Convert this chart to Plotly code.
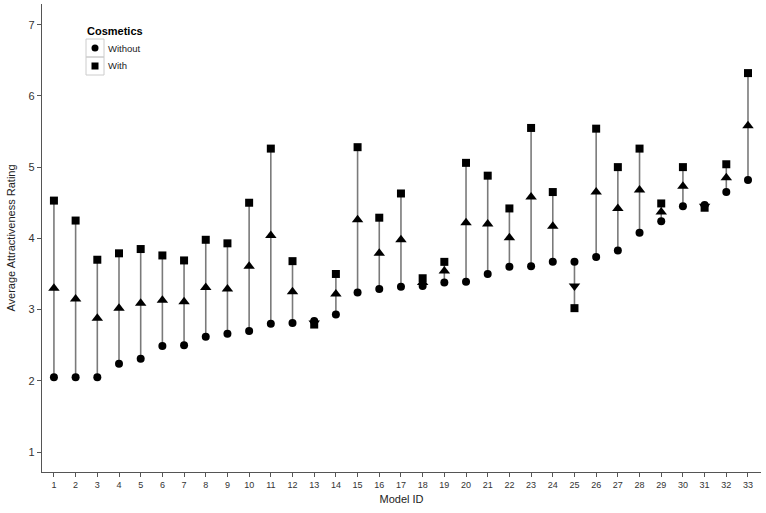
import plotly.graph_objects as go

model_ids = list(range(1, 34))
without = [2.05, 2.05, 2.05, 2.24, 2.31, 2.49, 2.50, 2.62, 2.66, 2.70,
           2.80, 2.81, 2.84, 2.93, 3.24, 3.29, 3.32, 3.33, 3.38, 3.39,
           3.50, 3.60, 3.61, 3.67, 3.67, 3.74, 3.83, 4.08, 4.24, 4.45,
           4.47, 4.65, 4.82]
with_cos = [4.53, 4.25, 3.70, 3.79, 3.85, 3.76, 3.69, 3.98, 3.93, 4.50,
            5.26, 3.68, 2.79, 3.50, 5.28, 4.29, 4.63, 3.44, 3.67, 5.06,
            4.88, 4.42, 5.55, 4.65, 3.02, 5.54, 5.00, 5.26, 4.49, 5.00,
            4.43, 5.04, 6.32]
midpoint = [3.30, 3.15, 2.88, 3.02, 3.09, 3.13, 3.11, 3.31, 3.29, 3.61,
            4.04, 3.25, 2.81, 3.22, 4.26, 3.79, 3.98, 3.38, 3.54, 4.22,
            4.20, 4.01, 4.58, 4.17, 3.33, 4.65, 4.42, 4.68, 4.37, 4.73,
            4.45, 4.85, 5.58]
y_ticks = [1, 2, 3, 4, 5, 6, 7]
legend_labels = ["Without", "With"]

FONT = "Liberation Sans, Arial, sans-serif"

W, H = 766, 513
L, R, T, B = 42, 5, 4, 41
pw, ph = W - L - R, H - T - B


def px(xp):
    return (xp - L) / pw


def py(yp):
    return 1 - (yp - T) / ph


fig = go.Figure()

# connecting segments
lx, ly = [], []
for m, a, b in zip(model_ids, without, with_cos):
    lx += [m, m, None]
    ly += [a, b, None]
fig.add_trace(go.Scatter(x=lx, y=ly, mode="lines", line=dict(color="#7a7a7a", width=1.6),
                         showlegend=False, hoverinfo="skip"))

# direction triangles
symbols = ["triangle-up" if w >= o else "triangle-down" for w, o in zip(with_cos, without)]
fig.add_trace(go.Scatter(x=model_ids, y=midpoint, mode="markers",
                         marker=dict(symbol=symbols, size=10, color="black"),
                         showlegend=False))

fig.add_trace(go.Scatter(x=model_ids, y=without, mode="markers", name=legend_labels[0],
                         marker=dict(symbol="circle", size=8, color="black"), showlegend=False))
fig.add_trace(go.Scatter(x=model_ids, y=with_cos, mode="markers", name=legend_labels[1],
                         marker=dict(symbol="square", size=8, color="black"), showlegend=False))

# ggplot-style legend: key boxes x 86..104, rows y 39..57 and 57..75
kx0, kx1, ky0, krow = 86, 104, 39, 18
fig.add_trace(go.Scatter(x=[0.5, 0.5], y=[0.5, 1.5], mode="markers",
                         marker=dict(symbol=["circle", "square"], size=7, color="black"),
                         xaxis="x2", yaxis="y2", showlegend=False, hoverinfo="skip"))
for i, lab in enumerate(legend_labels):
    fig.add_shape(type="rect", xref="paper", yref="paper",
                  x0=px(kx0), x1=px(kx1), y0=py(ky0 + i * krow), y1=py(ky0 + (i + 1) * krow),
                  line=dict(color="#cccccc", width=1), fillcolor="rgba(0,0,0,0)")
    fig.add_annotation(x=px(kx1 + 2), y=py(ky0 + i * krow + krow / 2), xref="paper", yref="paper",
                       text=lab, showarrow=False, xanchor="left", yanchor="middle",
                       font=dict(size=9.5, color="#222222"))
fig.add_annotation(x=px(kx0 - 1), y=py(31), xref="paper", yref="paper", text="<b>Cosmetics</b>",
                   showarrow=False, xanchor="left", yanchor="middle",
                   font=dict(size=11, color="black"))

fig.update_layout(
    width=W, height=H,
    margin=dict(l=L, r=R, t=T, b=B, autoexpand=False),
    paper_bgcolor="white", plot_bgcolor="white",
    font=dict(family=FONT, color="#222222"),
    showlegend=False,
    xaxis=dict(
        range=[0.45, 33.6], tickmode="array", tickvals=model_ids,
        ticktext=[str(m) for m in model_ids],
        showgrid=False, zeroline=False, showline=True, linecolor="#555555", linewidth=1.2,
        ticks="outside", ticklen=4, tickcolor="#555555",
        tickfont=dict(size=9, color="#333333"), automargin=True,
        title=dict(text="Model ID", font=dict(size=11, color="#222222"), standoff=6),
    ),
    yaxis=dict(
        range=[0.72, 7.29], tickmode="array", tickvals=y_ticks,
        showgrid=False, zeroline=False, showline=True, linecolor="#555555", linewidth=1.2,
        ticks="outside", ticklen=4, tickcolor="#555555",
        tickfont=dict(size=11, color="#333333"), automargin=True,
        title=dict(text="Average Attractiveness Rating", font=dict(size=11, color="#222222"), standoff=10),
    ),
    xaxis2=dict(domain=[px(kx0), px(kx1)], range=[0, 1], anchor="y2",
                visible=False, fixedrange=True),
    yaxis2=dict(domain=[py(ky0 + 2 * krow), py(ky0)], range=[2, 0], anchor="x2",
                visible=False, fixedrange=True),
)

fig.write_html("out.html", config={"displayModeBar": False},
               post_script="document.body.style.margin='0';document.body.style.padding='0';")
